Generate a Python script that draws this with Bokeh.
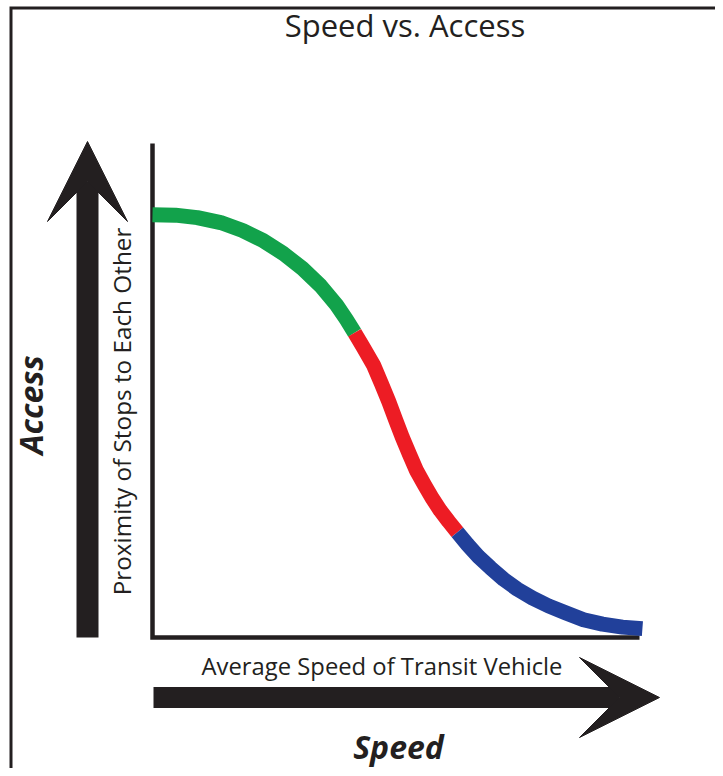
from bokeh.plotting import figure
from bokeh.models import Range1d, Label, Arrow, VeeHead
from bokeh.embed import file_html
from bokeh.resources import INLINE

# ---------------- data ----------------
title_text = "Speed vs. Access"
x_label = "Average Speed of Transit Vehicle"
y_label = "Proximity of Stops to Each Other"
x_word = "Speed"
y_word = "Access"

# curve: speed (0-100) vs access (0-100), three coloured sections
green_x = [0, 4.7, 9.2, 14.0, 18.5, 22.8, 26.9, 30.8, 34.5, 37.8, 39.8, 41.5]
green_y = [85.6, 85.5, 85.0, 84.0, 82.4, 80.3, 77.7, 74.7, 71.2, 67.3, 64.4, 61.7]
red_x = [41.5, 43.3, 45.4, 47.0, 48.5, 49.9, 51.3, 52.8, 54.2, 55.9, 57.5, 59.1, 60.8, 62.6]
red_y = [61.7, 58.7, 55.1, 51.4, 47.8, 44.1, 40.5, 37.0, 33.8, 30.8, 28.1, 25.7, 23.5, 21.3]
blue_x = [62.6, 64.7, 66.9, 69.4, 72.1, 74.9, 78.0, 81.3, 84.8, 88.5, 92.4, 96.5, 100.6]
blue_y = [21.3, 18.8, 16.4, 14.1, 11.8, 9.8, 8.0, 6.4, 5.0, 3.6, 2.7, 2.1, 1.8]

axis_x = [0, 0, 100]
axis_y = [100, 0, 0]

# ---------------- layout / style ----------------
W, H = 715, 768
AX_L, AX_R, AX_T, AX_B = 152, 639, 143, 637  # canvas pixels of the data box
SX = (AX_R - AX_L) / 100.0
SY = (AX_B - AX_T) / 100.0

def X(px):
    return (px - AX_L) / SX

def Y(py):
    return (AX_B - py) / SY

BLACK = "#231f20"
GREEN = "#12a24b"
RED = "#ed1c24"
BLUE = "#21409a"
FONT = "Open Sans"

p = figure(width=W, height=H, title=None,
           x_range=Range1d(X(0), X(W)), y_range=Range1d(Y(H), Y(0)),
           output_backend="svg", toolbar_location=None, min_border=0,
           x_axis_location=None, y_axis_location=None)
p.outline_line_color = None
p.background_fill_color = "white"
p.border_fill_color = "white"
p.xgrid.visible = False
p.ygrid.visible = False

# outer frame (top and left edges visible)
p.line([X(10.5), X(10.5), X(W + 10)], [Y(H + 10), Y(7.5), Y(7.5)],
       line_color=BLACK, line_width=3, line_join="miter")

# axes
p.line(axis_x, axis_y, line_color=BLACK, line_width=4.5, line_join="miter")

# curve
for xs, ys, c in [(green_x, green_y, GREEN), (red_x, red_y, RED), (blue_x, blue_y, BLUE)]:
    p.line(xs, ys, line_color=c, line_width=15, line_join="round", line_cap="butt")

# big arrows
up = Arrow(end=VeeHead(size=80, fill_color=BLACK, line_color=BLACK, line_width=1),
           x_start=X(87), y_start=Y(637), x_end=X(87), y_end=Y(141),
           line_color=BLACK, line_width=22)
right = Arrow(end=VeeHead(size=80, fill_color=BLACK, line_color=BLACK, line_width=1),
              x_start=X(153), y_start=Y(697), x_end=X(659), y_end=Y(697),
              line_color=BLACK, line_width=21)
p.add_layout(up)
p.add_layout(right)

# texts (anchor = centre of the capital letters)
p.add_layout(Label(x=X(404.5), y=Y(24.7), text=title_text, text_font=FONT,
                   text_font_size="31px", text_align="center",
                   text_baseline="middle", text_color=BLACK))
p.add_layout(Label(x=X(381.5), y=Y(665.5), text=x_label, text_font=FONT,
                   text_font_size="23.8px", text_align="center",
                   text_baseline="middle", text_color=BLACK))
p.add_layout(Label(x=X(120.5), y=Y(411), text=y_label, text_font=FONT,
                   text_font_size="24.3px", text_align="center",
                   text_baseline="middle", text_color=BLACK,
                   angle=90, angle_units="deg"))
p.add_layout(Label(x=X(30), y=Y(404.5), text=y_word, text_font=FONT,
                   text_font_style="bold italic", text_font_size="32px",
                   text_align="center", text_baseline="middle",
                   text_color=BLACK, angle=90, angle_units="deg"))
p.add_layout(Label(x=X(398), y=Y(746), text=x_word, text_font=FONT,
                   text_font_style="bold italic", text_font_size="32px",
                   text_align="center", text_baseline="middle",
                   text_color=BLACK))

open("out.html", "w").write(file_html(p, INLINE))
